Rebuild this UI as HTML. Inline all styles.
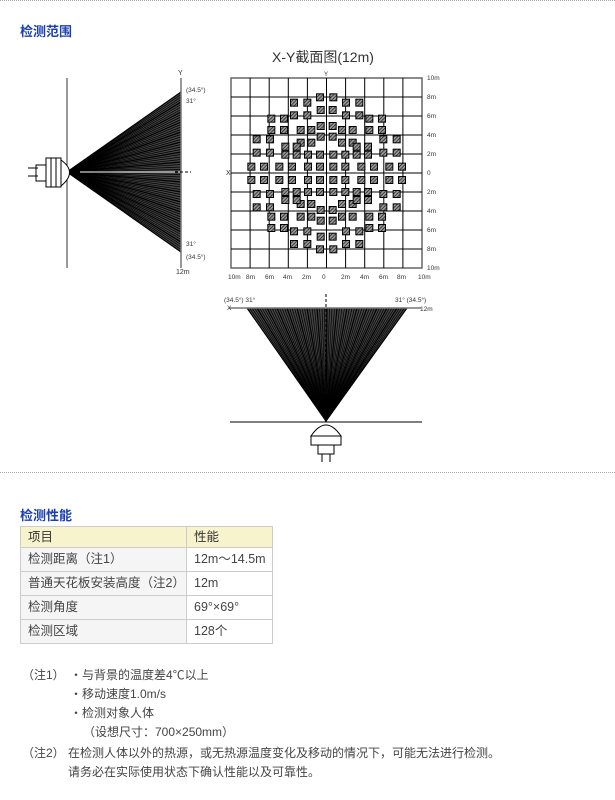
<!DOCTYPE html>
<html><head><meta charset="utf-8"><style>
body{margin:0;width:615px;height:800px;background:#fff;font-family:"Liberation Sans","Noto Sans CJK SC",sans-serif;position:relative;overflow:hidden;color:#333}
.h{position:absolute;left:20px;font-size:13px;font-weight:bold;color:#1a3fb0}
.sep{position:absolute;left:0;width:615px;border-top:1px dotted #aaa}
table{position:absolute;left:20px;top:526px;border-collapse:collapse;font-size:12.5px;color:#444}
td{border:1px solid #ccc;height:23px;padding:0 0 0 7px;line-height:23px}
tr:first-child td{background:#f7f3cc;height:20px;line-height:20px;color:#333}
td.a{width:158px;background:#f5f5f5}
td.b{width:78px}
.n{position:absolute;font-size:12px;color:#444;white-space:nowrap}
</style></head><body>
<div class="sep" style="top:0"></div>
<div class="h" style="top:21px">检测范围</div>
<svg id="s" width="615" height="470" style="position:absolute;left:0;top:0" font-family="Liberation Sans,sans-serif">
<defs><pattern id="hp" width="2.5" height="2.5" patternUnits="userSpaceOnUse" patternTransform="rotate(45)"><rect width="2.5" height="2.5" fill="#999"/><line x1="0" y1="0" x2="0" y2="2.5" stroke="#111" stroke-width="1.3"/></pattern></defs>
<g id="fans"></g>
<line x1="67" y1="78" x2="67" y2="268" stroke="#333"/>
<line x1="181" y1="78" x2="181" y2="268" stroke="#777" stroke-width="1.5"/>
<line x1="175" y1="172" x2="191" y2="172" stroke="#000" stroke-dasharray="3,2"/>
<text x="178" y="75" font-size="7" fill="#333">Y</text>
<text x="176" y="274" font-size="7" fill="#333">12m</text>
<g font-size="6.5" fill="#333"><text x="186" y="92">(34.5°)</text><text x="186" y="103">31°</text><text x="186" y="246">31°</text><text x="186" y="259">(34.5°)</text></g>
<g fill="#fff" stroke="#000" stroke-width="1"><path d="M61,160 Q78,172 61,186 Z"/><rect x="46" y="158" width="15" height="29"/><line x1="51" y1="158" x2="51" y2="187"/><line x1="56" y1="158" x2="56" y2="187"/><rect x="36" y="165" width="10" height="16"/><line x1="28" y1="168" x2="38" y2="168"/><line x1="28" y1="176" x2="38" y2="176"/></g>
<text x="272" y="62" font-size="14" fill="#333" font-family="Liberation Sans,Noto Sans CJK SC,sans-serif">X-Y截面图(12m)</text>
<g id="grid"></g>
<text x="324" y="76" font-size="6" fill="#333">Y</text>
<text x="226" y="175" font-size="7" fill="#333">X</text>
<g id="lab" font-size="6.5" fill="#333"></g>
<line x1="229" y1="308" x2="421" y2="308" stroke="#777" stroke-width="1.5"/>
<line x1="326" y1="294" x2="326" y2="420" stroke="#000" stroke-dasharray="3,2"/>
<line x1="230" y1="422" x2="422" y2="422" stroke="#000"/>
<g font-size="6.5" fill="#333"><text x="224" y="302">(34.5°) 31°</text><text x="227" y="310">X</text><text x="395" y="302">31° (34.5°)</text><text x="420" y="311">12m</text></g>
<g fill="#fff" stroke="#000"><path d="M311,436 Q326,414 341,436 Z"/><rect x="311" y="436" width="30" height="9"/><rect x="318" y="445" width="16" height="9"/><line x1="322" y1="454" x2="322" y2="462"/><line x1="330" y1="454" x2="330" y2="462"/></g>
</svg>
<div class="sep" style="top:472px"></div>
<div class="h" style="top:505px">检测性能</div>
<table>
<tr><td class="a">项目</td><td class="b">性能</td></tr>
<tr><td class="a">检测距离（注1）</td><td class="b">12m～14.5m</td></tr>
<tr><td class="a">普通天花板安装高度（注2）</td><td class="b">12m</td></tr>
<tr><td class="a">检测角度</td><td class="b">69°×69°</td></tr>
<tr><td class="a">检测区域</td><td class="b">128个</td></tr>
</table>
<div class="n" style="left:22px;top:666px">（注1）</div>
<div class="n" style="left:70px;top:666px">・与背景的温度差4℃以上</div>
<div class="n" style="left:70px;top:685px">・移动速度1.0m/s</div>
<div class="n" style="left:70px;top:704px">・检测对象人体</div>
<div class="n" style="left:83px;top:723px">（设想尺寸：700×250mm）</div>
<div class="n" style="left:22px;top:744px">（注2）</div>
<div class="n" style="left:68px;top:744px">在检测人体以外的热源，或无热源温度变化及移动的情况下，可能无法进行检测。</div>
<div class="n" style="left:68px;top:763px">请务必在实际使用状态下确认性能以及可靠性。</div>
<script>
var NS="http://www.w3.org/2000/svg";
function el(p,t,a){var e=document.createElementNS(NS,t);for(var k in a)e.setAttribute(k,a[k]);p.appendChild(e);return e;}
var f=document.getElementById('fans');
el(f,'path',{d:'M67,172 L181,92 L181,252 Z',fill:'#444'});
for(var i=0;i<=64;i++){var y=92+160*i/64;el(f,'line',{x1:67,y1:172,x2:181,y2:y,stroke:'#000','stroke-width':i%4==0?1.2:0.7});}
el(f,'line',{x1:80,y1:172,x2:181,y2:172,stroke:'#fff','stroke-width':1});
el(f,'path',{d:'M326,421 L247,308 L407,308 Z',fill:'#444'});
for(var i=0;i<=64;i++){var x=247+160*i/64;el(f,'line',{x1:326,y1:421,x2:x,y2:308,stroke:'#000','stroke-width':i%4==0?1.2:0.7});}
var g=document.getElementById('grid');
el(g,'rect',{x:231,y:78,width:191,height:190,fill:'#fff',stroke:'#666','stroke-width':1.5});
for(var i=1;i<10;i++){el(g,'line',{x1:231+19.1*i,y1:78,x2:231+19.1*i,y2:268,stroke:'#000','stroke-width':1});el(g,'line',{x1:231,y1:78+19*i,x2:422,y2:78+19*i,stroke:'#000','stroke-width':1});}
var rows=[[172,[340]],[188,[378,418]],[210,[338]],[226,[378,418]],[236,[448,486]],[258,[338]],[270,[366,398,448,486]],[290,[338]],[298,[490,530]],[308,[366,398]],[320,[410,444]],[338,[490,530]],[344,[340,376,410,444]],[380,[340,376,424,462,508,546]]];
rows.forEach(function(r){[r[0],800-r[0]].forEach(function(zy){r[1].forEach(function(zx){[zx,640-zx].forEach(function(x){
el(g,'rect',{x:220+x/3-3.5,y:40+zy/3-3.5,width:7,height:7,fill:'url(#hp)',stroke:'#000','stroke-width':1});});});});});
var lb=document.getElementById('lab');
var rl=['10m','8m','6m','4m','2m','0','2m','4m','6m','8m','10m'];
rl.forEach(function(t,i){var e=el(lb,'text',{x:427,y:80+19*i});e.textContent=t;});
var bx=[232,250,269,287,306,326,345,364,383,401,422];
rl.forEach(function(t,i){var e=el(lb,'text',{x:bx[i]-4,y:279});e.textContent=t;});
</script>
</body></html>
